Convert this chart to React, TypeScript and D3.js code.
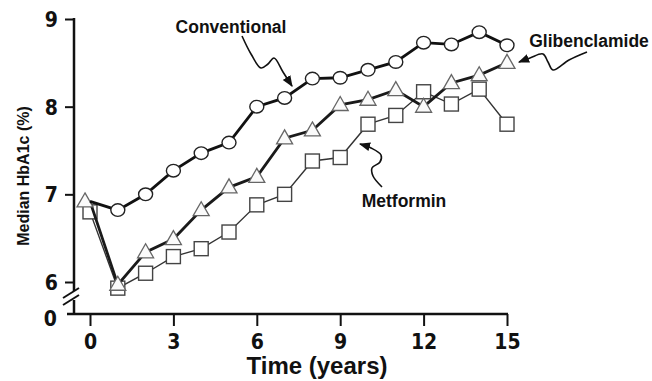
import React, { useRef, useEffect } from 'react'
import * as d3 from 'd3'

const years = d3.range(0, 16)
const conventional = [6.92, 6.82, 7.0, 7.27, 7.47, 7.59, 8.0, 8.1, 8.32, 8.33, 8.42, 8.51, 8.73, 8.71, 8.85, 8.7]
const glibenclamide = [6.92, 5.97, 6.34, 6.49, 6.82, 7.08, 7.2, 7.64, 7.73, 8.02, 8.08, 8.19, 8.0, 8.27, 8.36, 8.5]
const metformin = [6.8, 5.93, 6.1, 6.29, 6.38, 6.57, 6.88, 7.0, 7.38, 7.42, 7.8, 7.9, 8.17, 8.03, 8.2, 7.8]
const xTicks = [0, 3, 6, 9, 12, 15]
const yTicks = [6, 7, 8, 9]

const tickFont = "'Liberation Sans Narrow', 'DejaVu Sans Condensed', Arial, sans-serif"
const boldFont = "'Liberation Sans', Arial, sans-serif"

export default function App() {
  const ref = useRef<SVGSVGElement>(null)

  const layout = { width: 652, height: 381, axisX: 74, axisY: 314, top: 19, bottom6: 282, left0: 90, right15: 507 }

  const x = d3.scaleLinear().domain([0, 15]).range([layout.left0, layout.right15])
  const y = d3.scaleLinear().domain([6, 9]).range([layout.bottom6, layout.top])

  useEffect(() => {
    const svg = d3.select(ref.current)

    svg.select<SVGGElement>('#y-axis')
      .attr('transform', `translate(${layout.axisX}, 0)`)
      .call(d3.axisLeft(y).tickValues(yTicks).tickSize(9).tickPadding(7).tickFormat(d3.format('d')))
      .call(g => g.select('.domain').remove())
      .call(g => g.selectAll('line').attr('stroke', '#111').attr('stroke-width', 2))
      .call(g => g.selectAll('text').attr('font-family', tickFont).attr('font-weight', 'bold')
        .attr('font-size', 21).attr('fill', '#111').attr('dy', '0.36em'))

    svg.select<SVGGElement>('#x-axis')
      .attr('transform', `translate(0, ${layout.axisY})`)
      .call(d3.axisBottom(x).tickValues(xTicks).tickSize(12).tickPadding(10).tickFormat(d3.format('d')))
      .call(g => g.select('.domain').remove())
      .call(g => g.selectAll('line').attr('stroke', '#111').attr('stroke-width', 2))
      .call(g => g.selectAll('text').attr('font-family', tickFont).attr('font-weight', 'bold')
        .attr('font-size', 21).attr('fill', '#111').attr('dy', '0.6em'))
  }, [])

  const lineGen = (vals: number[]) =>
    d3.line<number>().x((_, i) => x(years[i])).y(d => y(d))(vals) || ''

  const arrow = d3.line().curve(d3.curveCatmullRom.alpha(0.5))

  const convArrow: [number, number][] = [[242, 36], [251, 54], [261, 68], [268, 64], [274, 58], [283, 72], [292, 86]]
  const glibArrow: [number, number][] = [[587, 52], [569, 60], [553, 70], [548, 62], [543, 54], [530, 58], [519, 62]]
  const metArrow: [number, number][] = [[382, 187], [373, 176], [372, 168], [380, 162], [381, 155], [371, 148], [360, 144]]

  const triPath = (cx: number, cy: number) => {
    const w = 8, h = 14
    return `M${cx},${cy - h * 0.6}L${cx + w},${cy + h * 0.4}L${cx - w},${cy + h * 0.4}Z`
  }

  return (
    <svg ref={ref} width={layout.width} height={layout.height}
      style={{ position: 'absolute', left: 0, top: 0, background: '#fff' }}>
      <defs>
        <marker id="head" viewBox="0 0 10 10" refX="9" refY="5" markerWidth="7" markerHeight="7" orient="auto">
          <path d="M0,1 L10,5 L0,9 Z" fill="#111" />
        </marker>
      </defs>

      {/* axis lines with break */}
      <line x1={layout.axisX} x2={layout.axisX} y1={layout.top - 1} y2={291} stroke="#111" strokeWidth={2.5} />
      <line x1={layout.axisX} x2={layout.axisX} y1={300} y2={layout.axisY} stroke="#111" strokeWidth={2.5} />
      <line x1={63} x2={79} y1={298} y2={288} stroke="#111" strokeWidth={2} />
      <line x1={63} x2={79} y1={305} y2={295} stroke="#111" strokeWidth={2} />
      <line x1={67} x2={layout.right15 + 1} y1={layout.axisY} y2={layout.axisY} stroke="#111" strokeWidth={2.5} />
      <text x={57} y={320} textAnchor="end" dominantBaseline="middle" fontFamily={tickFont}
        fontWeight="bold" fontSize={21} fill="#111">0</text>

      <g id="y-axis" />
      <g id="x-axis" />

      {/* Metformin */}
      <path d={lineGen(metformin)} fill="none" stroke="#333" strokeWidth={1.4} />
      {metformin.map((v, i) => (
        <rect key={'m' + i} x={x(years[i]) - 7} y={y(v) - 7} width={14} height={14}
          fill="#fff" stroke="#444" strokeWidth={1.4} />
      ))}

      {/* Glibenclamide */}
      <path d={lineGen(glibenclamide)} fill="none" stroke="#1a1a1a" strokeWidth={2.8} />
      {glibenclamide.map((v, i) => (
        <path key={'g' + i} d={triPath(x(years[i]) - (i === 0 ? 5 : 0), y(v))}
          fill="#fafafa" stroke="#666" strokeWidth={1.3} />
      ))}

      {/* Conventional */}
      <path d={lineGen(conventional)} fill="none" stroke="#111" strokeWidth={2.8} />
      {conventional.map((v, i) => i === 0 ? null : (
        <ellipse key={'c' + i} cx={x(years[i])} cy={y(v)} rx={7} ry={6.3}
          fill="#fff" stroke="#222" strokeWidth={1.4} />
      ))}

      {/* annotations */}
      <path d={arrow(convArrow) || ''} fill="none" stroke="#111" strokeWidth={1.6} markerEnd="url(#head)" />
      <path d={arrow(glibArrow) || ''} fill="none" stroke="#111" strokeWidth={1.6} markerEnd="url(#head)" />
      <path d={arrow(metArrow) || ''} fill="none" stroke="#111" strokeWidth={1.6} markerEnd="url(#head)" />

      <text x={231} y={33} textAnchor="middle" fontFamily={boldFont} fontWeight="bold" fontSize={17.5} fill="#111">Conventional</text>
      <text x={589} y={47} textAnchor="middle" fontFamily={boldFont} fontWeight="bold" fontSize={17.5} fill="#111">Glibenclamide</text>
      <text x={404} y={207} textAnchor="middle" fontFamily={boldFont} fontWeight="bold" fontSize={17.5} fill="#111">Metformin</text>

      <text x={317} y={374} textAnchor="middle" fontFamily={boldFont} fontWeight="bold" fontSize={24} fill="#111">Time (years)</text>
      <text transform="translate(29, 176) rotate(-90)" textAnchor="middle" fontFamily={boldFont}
        fontWeight="bold" fontSize={16} fill="#111">Median HbA1c (%)</text>
    </svg>
  )
}
